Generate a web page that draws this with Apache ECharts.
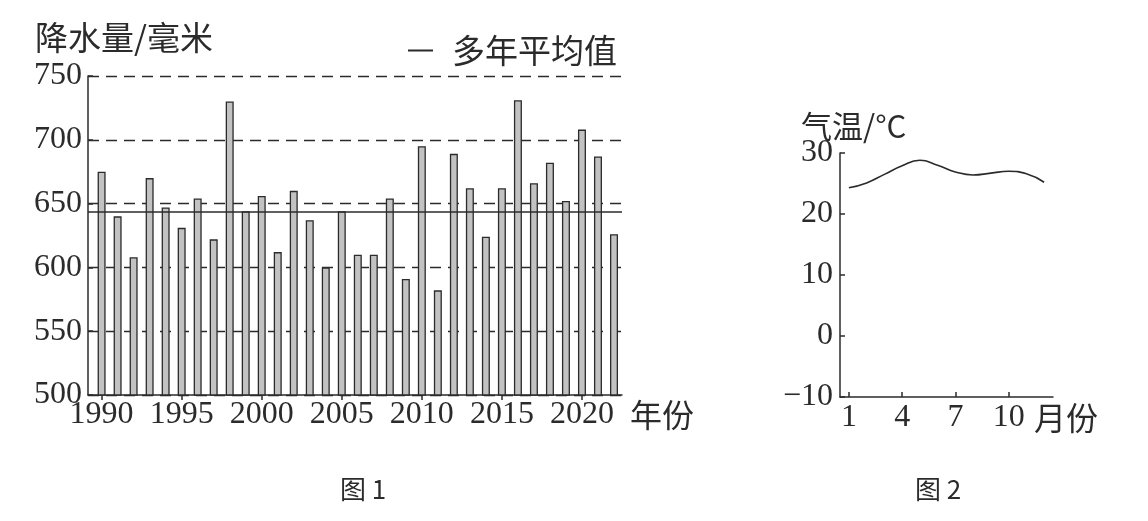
<!DOCTYPE html>
<html>
<head>
<meta charset="utf-8">
<script src="https://cdn.jsdelivr.net/npm/echarts@6/dist/echarts.min.js"></script>
<style>
  html, body { margin: 0; padding: 0; background: #fff; }
  #main { width: 1148px; height: 521px; }
</style>
</head>
<body>
<div id="main"></div>
<script>
// 图1 降水量数据
var years = [1990, 1991, 1992, 1993, 1994, 1995, 1996, 1997, 1998, 1999, 2000,
             2001, 2002, 2003, 2004, 2005, 2006, 2007, 2008, 2009, 2010, 2011,
             2012, 2013, 2014, 2015, 2016, 2017, 2018, 2019, 2020, 2021, 2022];
var precip = [675, 640, 608, 670, 647, 631, 654, 622, 730, 644, 656,
              612, 660, 637, 600, 644, 610, 610, 654, 591, 695, 582,
              689, 662, 624, 662, 731, 666, 682, 652, 708, 687, 626];
var meanValue = 644;
var yearTicks = [1990, 1995, 2000, 2005, 2010, 2015, 2020];

// 图2 气温数据
var months = [1, 2, 3, 4, 5, 6, 7, 8, 9, 10, 11, 12];
var temps = [24.3, 25.1, 26.5, 27.9, 28.8, 28.0, 26.9, 26.4, 26.7, 27.0, 26.6, 25.2];
var monthTicks = [1, 4, 7, 10];

var ink = '#2b2b2b';
var font = '"Liberation Serif", "Noto Sans CJK SC", serif';
var cjk = '"Noto Sans CJK SC", "Liberation Serif", sans-serif';

var barData = [];
for (var i = 0; i < years.length; i++) {
  barData.push([years[i], precip[i]]);
}
var lineData = [];
for (var j = 0; j < months.length; j++) {
  lineData.push([months[j], temps[j]]);
}

var myChart = echarts.init(document.getElementById('main'));
var option = {
  backgroundColor: '#fff',
  animation: false,
  textStyle: { fontFamily: font, color: ink },
  title: [
    { text: '降水量/毫米', left: 30, top: 16,
      textStyle: { fontFamily: cjk, fontSize: 33, fontWeight: 'normal', color: ink } },
    { text: '气温/°C', left: 796, top: 106,
      textStyle: { fontFamily: cjk, fontSize: 31, fontWeight: 'normal', color: ink } }
  ],
  legend: {
    data: [{ name: '多年平均值', icon: 'rect' }],
    left: 403, top: 29,
    itemWidth: 25, itemHeight: 2,
    textStyle: { fontFamily: cjk, fontSize: 33, color: ink, padding: [0, 0, 0, 14] }
  },
  graphic: [
    { type: 'text', left: 630, top: 399,
      style: { text: '年份', font: '32px ' + cjk, fill: ink } },
    { type: 'text', left: 1034, top: 402,
      style: { text: '月份', font: '32px ' + cjk, fill: ink } },
    { type: 'text', left: 340, top: 476,
      style: { text: '图 1', font: '26px ' + cjk, fill: ink } },
    { type: 'text', left: 915, top: 476,
      style: { text: '图 2', font: '26px ' + cjk, fill: ink } }
  ],
  grid: [
    { left: 88, right: 526, top: 76, bottom: 126 },
    { left: 840, right: 95, top: 153, bottom: 124 }
  ],
  xAxis: [
    {
      gridIndex: 0,
      type: 'value',
      min: 1989.15,
      max: 2022.5,
      axisLine: { onZero: false, lineStyle: { color: ink, width: 1.5 } },
      axisTick: { show: true, inside: false, length: 5, customValues: yearTicks,
                  lineStyle: { color: ink, width: 1.5 } },
      axisLabel: { customValues: yearTicks, margin: 4, fontSize: 32,
                   fontFamily: font, color: ink,
                   formatter: function (v) { return String(v); } },
      splitLine: { show: false }
    },
    {
      gridIndex: 1,
      type: 'value',
      min: 0.5,
      max: 12.5,
      axisLine: { onZero: false, lineStyle: { color: ink, width: 1.5 } },
      axisTick: { show: true, inside: true, length: 5, customValues: monthTicks,
                  lineStyle: { color: ink, width: 1.5 } },
      axisLabel: { customValues: monthTicks, margin: 5, fontSize: 32,
                   fontFamily: font, color: ink,
                   formatter: function (v) { return String(v); } },
      splitLine: { show: false }
    }
  ],
  yAxis: [
    {
      gridIndex: 0,
      type: 'value',
      min: 500,
      max: 750,
      interval: 50,
      axisLine: { show: true, onZero: false, lineStyle: { color: ink, width: 1.5 } },
      axisTick: { show: true, inside: true, length: 5, lineStyle: { color: ink, width: 1.5 } },
      axisLabel: { margin: 6, fontSize: 32, fontFamily: font, color: ink },
      splitLine: { show: true, lineStyle: { color: ink, width: 1.3, type: [11, 7] } }
    },
    {
      gridIndex: 1,
      type: 'value',
      min: -10,
      max: 30,
      interval: 10,
      axisLine: { show: true, onZero: false, lineStyle: { color: ink, width: 1.5 } },
      axisTick: { show: true, inside: true, length: 5, lineStyle: { color: ink, width: 1.5 } },
      axisLabel: {
        margin: 7, fontSize: 32, fontFamily: font, color: ink,
        formatter: function (v) { return String(v).replace('-', '\u2212'); }
      },
      splitLine: { show: false }
    }
  ],
  series: [
    {
      name: '降水量',
      type: 'bar',
      xAxisIndex: 0,
      yAxisIndex: 0,
      barWidth: 8,
      data: barData,
      itemStyle: { color: '#c2c2c2', borderColor: ink, borderWidth: 1.3 },
      markLine: {
        silent: true,
        symbol: 'none',
        label: { show: false },
        lineStyle: { color: ink, width: 1.5, type: 'solid' },
        data: [{ yAxis: meanValue }]
      }
    },
    {
      name: '多年平均值',
      type: 'line',
      xAxisIndex: 0,
      yAxisIndex: 0,
      symbol: 'none',
      data: [],
      lineStyle: { color: ink, width: 1.5 },
      itemStyle: { color: ink }
    },
    {
      name: '气温',
      type: 'line',
      xAxisIndex: 1,
      yAxisIndex: 1,
      smooth: 0.5,
      symbol: 'none',
      data: lineData,
      lineStyle: { color: ink, width: 1.6 }
    }
  ]
};
myChart.setOption(option);
</script>
</body>
</html>
